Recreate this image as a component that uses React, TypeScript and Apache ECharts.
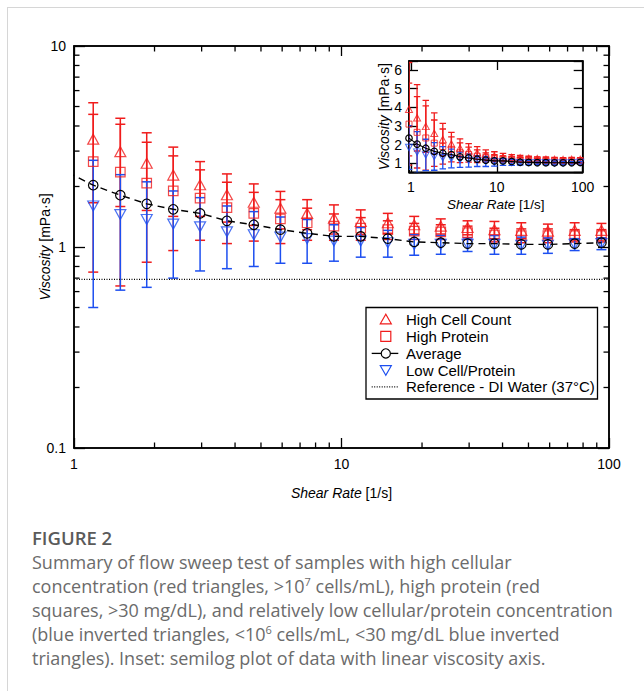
import React, { useEffect, useRef } from "react";
import * as echarts from "echarts";

// ---- data ----
const shearRate = [0.95, 1.18, 1.49, 1.87, 2.35, 2.96, 3.73, 4.7, 5.91, 7.44, 9.37, 11.8, 14.9, 18.7, 23.5, 29.6, 37.3, 47.0, 59.1, 74.4, 93.7];
const highCell = [3.9, 3.44, 2.98, 2.61, 2.28, 2.04, 1.82, 1.67, 1.56, 1.47, 1.39, 1.34, 1.32, 1.29, 1.27, 1.25, 1.22, 1.21, 1.2, 1.21, 1.21];
const highCellErr = [2.5, 1.78, 1.39, 1.09, 0.86, 0.62, 0.49, 0.39, 0.33, 0.25, 0.23, 0.19, 0.15, 0.13, 0.11, 0.1, 0.12, 0.11, 0.1, 0.11, 0.1];
const highProtein = [3.1, 2.66, 2.36, 2.08, 1.9, 1.75, 1.57, 1.47, 1.38, 1.32, 1.27, 1.24, 1.22, 1.2, 1.19, 1.18, 1.15, 1.14, 1.14, 1.14, 1.14];
const highProteinErr = [2.2, 1.91, 1.72, 1.24, 0.94, 0.67, 0.53, 0.4, 0.34, 0.24, 0.19, 0.16, 0.13, 0.11, 0.1, 0.09, 0.09, 0.09, 0.09, 0.08, 0.08];
const average = [2.35, 2.03, 1.81, 1.64, 1.54, 1.47, 1.35, 1.29, 1.22, 1.17, 1.13, 1.13, 1.1, 1.06, 1.05, 1.04, 1.04, 1.03, 1.03, 1.04, 1.05];
const lowCell = [1.85, 1.6, 1.45, 1.37, 1.3, 1.26, 1.19, 1.15, 1.12, 1.1, 1.07, 1.07, 1.05, 1.03, 1.03, 1.03, 1.03, 1.02, 1.02, 1.03, 1.04];
const lowCellErr = [1.17, 1.1, 0.84, 0.74, 0.6, 0.5, 0.41, 0.35, 0.29, 0.27, 0.22, 0.18, 0.16, 0.12, 0.11, 0.08, 0.11, 0.1, 0.09, 0.07, 0.07];
const diWater = 0.69;

// tick labels / tick positions
const mainXLabels = [1, 10, 100];
const mainYLabels = [0.1, 1, 10];
const mainXMinor = [2, 3, 4, 5, 6, 7, 8, 9, 20, 30, 40, 50, 60, 70, 80, 90];
const mainYMinor = [0.2, 0.3, 0.4, 0.5, 0.6, 0.7, 0.8, 0.9, 2, 3, 4, 5, 6, 7, 8, 9];
const insetXLabels = [1, 10, 100];
const insetYLabels = [1, 2, 3, 4, 5, 6];

const legendNames = ["High Cell Count", "High Protein", "Average", "Low Cell/Protein", "Reference - DI Water (37°C)"];

const RED = "#f01c1c";
const BLUE = "#1d4ff0";
const FONT = "'Liberation Sans', Arial, Helvetica, sans-serif";

const near = (v: number, list: number[]) => list.some((t) => Math.abs(v - t) < 1e-6 * Math.max(1, t));

function errorBars(xs: number[], ys: number[], errs: number[], color: string, capW: number, lw: number, axis: number) {
  return {
    type: "custom",
    xAxisIndex: axis,
    yAxisIndex: axis,
    clip: true,
    silent: true,
    data: xs.map((x, i) => [x, ys[i] - errs[i], ys[i] + errs[i]]),
    encode: { x: 0, y: [1, 2] },
    renderItem: (params: any, api: any) => {
      const x = api.value(0);
      const a = api.coord([x, api.value(1)]);
      const b = api.coord([x, api.value(2)]);
      const h = capW / 2;
      const style = { stroke: color, lineWidth: lw, fill: null };
      return {
        type: "group",
        children: [
          { type: "line", shape: { x1: a[0], y1: a[1], x2: b[0], y2: b[1] }, style },
          { type: "line", shape: { x1: a[0] - h, y1: a[1], x2: a[0] + h, y2: a[1] }, style },
          { type: "line", shape: { x1: b[0] - h, y1: b[1], x2: b[0] + h, y2: b[1] }, style },
        ],
      };
    },
  };
}

function markers(name: string, xs: number[], ys: number[], symbol: string, size: any, rotate: number, color: string, bw: number, axis: number) {
  return {
    name,
    type: "scatter",
    xAxisIndex: axis,
    yAxisIndex: axis,
    silent: true,
    symbol,
    symbolSize: size,
    symbolRotate: rotate,
    data: xs.map((x, i) => [x, ys[i]]),
    itemStyle: { color: "rgba(0,0,0,0)", borderColor: color, borderWidth: bw },
    emphasis: { disabled: true },
  };
}

function avgLine(name: string, axis: number, size: number, dash: any, lw: number) {
  return {
    name,
    type: "line",
    xAxisIndex: axis,
    yAxisIndex: axis,
    silent: true,
    data: shearRate.map((x, i) => [x, average[i]]),
    symbol: "circle",
    symbolSize: size,
    showSymbol: true,
    itemStyle: { color: "rgba(0,0,0,0)", borderColor: "#000", borderWidth: 1.2 },
    lineStyle: { color: "#000", width: lw, type: dash },
    emphasis: { disabled: true },
  };
}

function minorTicks(values: number[], dir: "x" | "y") {
  return {
    type: "custom",
    xAxisIndex: 0,
    yAxisIndex: 0,
    clip: false,
    silent: true,
    z: 5,
    data: values.map((v) => (dir === "x" ? [v, 1] : [1, v])),
    encode: { x: 0, y: 1 },
    renderItem: (params: any, api: any) => {
      const cs = params.coordSys;
      const p = api.coord([api.value(0), api.value(1)]);
      const style = { stroke: "#000", lineWidth: 1.3 };
      const L = 5.5;
      if (dir === "x") {
        const b = cs.y + cs.height;
        return {
          type: "group",
          children: [
            { type: "line", shape: { x1: p[0], y1: b, x2: p[0], y2: b - L }, style },
            { type: "line", shape: { x1: p[0], y1: cs.y, x2: p[0], y2: cs.y + L }, style },
          ],
        };
      }
      const r = cs.x + cs.width;
      return {
        type: "group",
        children: [
          { type: "line", shape: { x1: cs.x, y1: p[1], x2: cs.x + L, y2: p[1] }, style },
          { type: "line", shape: { x1: r, y1: p[1], x2: r - L, y2: p[1] }, style },
        ],
      };
    },
  };
}

const nameStyle = (size: number) => ({
  fontSize: size,
  color: "#000",
  fontFamily: FONT,
  rich: { i: { fontStyle: "italic", fontSize: size, color: "#000", fontFamily: FONT } },
});

function axis(extra: any) {
  return {
    splitLine: { show: false },
    minorTick: { show: false },
    nameMoveOverlap: false,
    axisLine: { show: true, onZero: false, lineStyle: { color: "#000", width: 1.5 } },
    ...extra,
  };
}

function legendGraphics() {
  const x0 = 371.7, x1 = 398.3, cx = 385.8, tx = 406;
  const rows = [319.3, 336.4, 353.4, 370.2, 386.9];
  const txt = (i: number) => ({
    type: "text",
    x: tx,
    y: rows[i],
    z: 101,
    style: {
      text: legendNames[i],
      font: `15px ${FONT}`,
      fill: "#000",
      align: "left",
      verticalAlign: "middle",
      textAlign: "left",
      textVerticalAlign: "middle",
    },
  });
  return [
    { type: "rect", z: 100, shape: { x: 366, y: 307.5, width: 231.5, height: 91.5 }, style: { fill: "#fff", stroke: "#000", lineWidth: 1.3 } },
    { type: "polygon", z: 101, shape: { points: [[cx, rows[0] - 5], [cx - 5.5, rows[0] + 4.5], [cx + 5.5, rows[0] + 4.5]] }, style: { fill: null, stroke: RED, lineWidth: 1.2 } },
    { type: "rect", z: 101, shape: { x: cx - 5, y: rows[1] - 5, width: 10, height: 10 }, style: { fill: null, stroke: RED, lineWidth: 1.2 } },
    { type: "line", z: 101, shape: { x1: x0, y1: rows[2], x2: cx - 4.6, y2: rows[2] }, style: { stroke: "#000", lineWidth: 1.3 } },
    { type: "line", z: 101, shape: { x1: cx + 4.6, y1: rows[2], x2: x1, y2: rows[2] }, style: { stroke: "#000", lineWidth: 1.3 } },
    { type: "circle", z: 101, shape: { cx, cy: rows[2], r: 4.6 }, style: { fill: null, stroke: "#000", lineWidth: 1.2 } },
    { type: "polygon", z: 101, shape: { points: [[cx, rows[3] + 5], [cx - 5.5, rows[3] - 4.5], [cx + 5.5, rows[3] - 4.5]] }, style: { fill: null, stroke: BLUE, lineWidth: 1.2 } },
    { type: "line", z: 101, shape: { x1: x0, y1: rows[4], x2: x1, y2: rows[4] }, style: { stroke: "#000", lineWidth: 1.2, lineDash: [1, 1.5] } },
    txt(0), txt(1), txt(2), txt(3), txt(4),
  ];
}

export default function App() {
  const ref = useRef<HTMLDivElement>(null);
  useEffect(() => {
    if (!ref.current) return;
    const chart = echarts.init(ref.current, null, { renderer: "svg" });
    const tickStyle = { color: "#000", width: 1.3 };
    const option: any = {
      animation: false,
      backgroundColor: "transparent",
      grid: [
        { left: 74, top: 46, width: 535, height: 402, show: true, borderColor: "#000", borderWidth: 1.5, backgroundColor: "transparent", containLabel: false },
        { left: 409, top: 61, width: 173.7, height: 111.3, show: true, borderColor: "#000", borderWidth: 1.5, backgroundColor: "#fff", containLabel: false },
      ],
      xAxis: [
        axis({
          type: "log", gridIndex: 0, min: 1, max: 100, position: "bottom",
          axisTick: { show: true, inside: true, length: 10, lineStyle: tickStyle },
          axisLabel: { fontSize: 14, color: "#000", fontFamily: FONT, margin: 9, formatter: (v: number) => (near(v, mainXLabels) ? String(+v.toPrecision(6)) : "") },
          name: "{i|Shear Rate} [1/s]", nameLocation: "middle", nameGap: 38, nameTextStyle: nameStyle(14),
        }),
        axis({
          type: "log", gridIndex: 0, min: 1, max: 100, position: "top",
          axisTick: { show: true, inside: true, length: 10, lineStyle: tickStyle },
          axisLabel: { show: false },
        }),
        axis({
          type: "log", gridIndex: 1, min: 0.95, max: 100, position: "bottom",
          axisTick: { show: true, inside: true, length: 9, lineStyle: tickStyle },
          axisLabel: { fontSize: 14, color: "#000", fontFamily: FONT, margin: 8, formatter: (v: number) => (near(v, insetXLabels) ? String(+v.toPrecision(6)) : "") },
          name: "{i|Shear Rate} [1/s]", nameLocation: "middle", nameGap: 25, nameTextStyle: nameStyle(13.5),
        }),
        axis({
          type: "log", gridIndex: 1, min: 0.95, max: 100, position: "top",
          axisTick: { show: true, inside: true, length: 9, lineStyle: tickStyle },
          axisLabel: { show: false },
        }),
      ],
      yAxis: [
        axis({
          type: "log", gridIndex: 0, min: 0.1, max: 10, position: "left",
          axisTick: { show: true, inside: true, length: 11, lineStyle: tickStyle },
          axisLabel: { fontSize: 14, color: "#000", fontFamily: FONT, margin: 8, formatter: (v: number) => (near(v, mainYLabels) ? String(+v.toPrecision(6)) : "") },
          name: "{i|Viscosity} [mPa·s]", nameLocation: "middle", nameGap: 22, nameRotate: 90, nameTextStyle: nameStyle(14),
        }),
        axis({
          type: "log", gridIndex: 0, min: 0.1, max: 10, position: "right",
          axisTick: { show: true, inside: true, length: 11, lineStyle: tickStyle },
          axisLabel: { show: false },
        }),
        axis({
          type: "value", gridIndex: 1, min: 0.52, max: 6.48, minInterval: 1, maxInterval: 1, position: "left",
          axisTick: { show: true, inside: true, length: 9, lineStyle: tickStyle },
          axisLabel: { fontSize: 14, color: "#000", fontFamily: FONT, margin: 7, formatter: (v: number) => (near(v, insetYLabels) ? String(Math.round(v)) : "") },
          name: "{i|Viscosity} [mPa·s]", nameLocation: "middle", nameGap: 18, nameRotate: 90, nameTextStyle: nameStyle(14),
        }),
        axis({
          type: "value", gridIndex: 1, min: 0.52, max: 6.48, minInterval: 1, maxInterval: 1, position: "right",
          axisTick: { show: true, inside: true, length: 9, lineStyle: tickStyle },
          axisLabel: { show: false },
        }),
      ],
      series: [
        {
          name: legendNames[4], type: "line", xAxisIndex: 0, yAxisIndex: 0, silent: true, symbol: "none",
          data: [[1, diWater], [100, diWater]],
          lineStyle: { color: "#000", width: 1.2, type: [1, 1.5] },
        },
        errorBars(shearRate, highCell, highCellErr, RED, 10, 1.5, 0),
        markers(legendNames[0], shearRate, highCell, "triangle", [11, 10], 0, RED, 1.2, 0),
        errorBars(shearRate, highProtein, highProteinErr, RED, 10, 1.5, 0),
        markers(legendNames[1], shearRate, highProtein, "rect", [9.5, 9.5], 0, RED, 1.2, 0),
        avgLine(legendNames[2], 0, 9.5, [7, 5], 1.4),
        errorBars(shearRate, lowCell, lowCellErr, BLUE, 10, 1.5, 0),
        markers(legendNames[3], shearRate, lowCell, "triangle", [11, 10], 180, BLUE, 1.2, 0),
        minorTicks(mainXMinor, "x"),
        minorTicks(mainYMinor, "y"),
        // inset
        errorBars(shearRate, highCell, highCellErr, RED, 6.5, 1.3, 2),
        markers(legendNames[0], shearRate, highCell, "triangle", [7, 6.5], 0, RED, 1, 2),
        errorBars(shearRate, highProtein, highProteinErr, RED, 6.5, 1.3, 2),
        markers(legendNames[1], shearRate, highProtein, "rect", [6, 6], 0, RED, 1, 2),
        avgLine(legendNames[2], 2, 6.5, "solid", 1.1),
        errorBars(shearRate, lowCell, lowCellErr, BLUE, 6.5, 1.3, 2),
        markers(legendNames[3], shearRate, lowCell, "triangle", [7, 6.5], 180, BLUE, 1, 2),
      ],
      graphic: legendGraphics(),
    };
    chart.setOption(option);
    return () => chart.dispose();
  }, []);

  const capStyle: React.CSSProperties = {
    position: "absolute",
    left: 32,
    top: 526,
    width: 610,
    fontFamily: "'Open Sans', 'Noto Sans', sans-serif",
    color: "#6b6b6b",
    fontSize: 18,
    lineHeight: "24px",
    whiteSpace: "nowrap",
  };
  const sup: React.CSSProperties = { fontSize: 11, verticalAlign: "super", lineHeight: 0 };

  return (
    <div style={{ position: "absolute", left: 0, top: 0, width: 644, height: 691, background: "#fff", overflow: "hidden" }}>
      <div style={{ position: "absolute", left: 7, top: 7, width: 700, height: 700, borderTop: "1px solid #d6d6d6", borderLeft: "1px solid #d6d6d6" }} />
      <div ref={ref} style={{ position: "absolute", left: 0, top: 0, width: 644, height: 510 }} />
      <div style={capStyle}>
        <div style={{ fontSize: 18.5, fontWeight: 600, color: "#5a5a5a" }}>FIGURE 2</div>
        <div>Summary of flow sweep test of samples with high cellular</div>
        <div>
          concentration (red triangles, &gt;10<sup style={sup}>7</sup> cells/mL), high protein (red
        </div>
        <div>squares, &gt;30 mg/dL), and relatively low cellular/protein concentration</div>
        <div>
          (blue inverted triangles, &lt;10<sup style={sup}>6</sup> cells/mL, &lt;30 mg/dL blue inverted
        </div>
        <div>triangles). Inset: semilog plot of data with linear viscosity axis.</div>
      </div>
    </div>
  );
}
